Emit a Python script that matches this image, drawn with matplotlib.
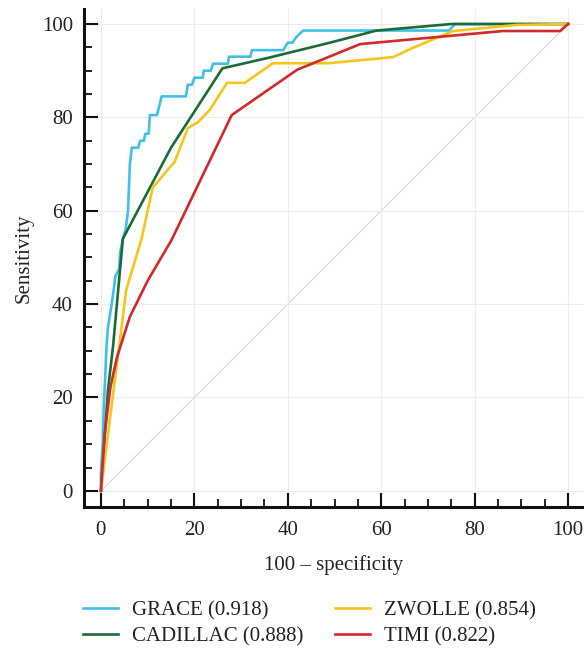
import numpy as np
import matplotlib.pyplot as plt

plt.rcParams['font.family'] = ['Liberation Serif', 'DejaVu Serif']

# ROC curves (100 - specificity, sensitivity)
grace_x = [0, 0, 0.4, 0.6, 0.9, 1.2, 1.5, 1.9, 2.3, 2.6, 3.1, 3.9, 4.1, 4.7, 5.3, 5.8, 6.0, 6.2,
           6.6, 8.0, 8.4, 9.2, 9.5, 10.2, 10.5, 12.0, 13.0, 18.2, 18.6, 19.5, 20.0, 21.8, 22.0,
           23.5, 24.0, 27.2, 27.4, 32.0, 32.3, 39.0, 40.0, 41.0, 41.8, 43.3, 74.5, 75.8, 100]
grace_y = [0, 4, 10, 18, 24, 31, 35, 37.5, 40, 42, 46, 47.5, 51, 54, 56, 60, 65, 70,
           73.5, 73.5, 75, 75, 76.5, 76.5, 80.5, 80.5, 84.5, 84.5, 87, 87, 88.5, 88.5, 90,
           90, 91.5, 91.5, 93, 93, 94.4, 94.4, 96, 96, 97.2, 98.6, 98.6, 100, 100]

cadillac_x = [0, 0.7, 1.5, 2.6, 4.7, 15.0, 26.0, 36.0, 49.0, 59.0, 75.0, 100]
cadillac_y = [0, 10, 21.5, 31, 54, 73.5, 90.5, 92.8, 96.0, 98.6, 100, 100]

zwolle_x = [0, 1.5, 3.6, 5.4, 8.7, 11.1, 15.8, 18.6, 20.8, 23.3, 27.0, 30.8, 36.8, 48.6,
            62.5, 66.8, 75.4, 89.0, 100]
zwolle_y = [0, 12, 28.5, 43, 54, 65, 70.5, 77.7, 79, 81.6, 87.4, 87.4, 91.6, 91.6,
            92.9, 94.9, 98.5, 99.8, 100]

timi_x = [0, 0.8, 2.0, 3.4, 6.2, 10.0, 15.1, 28.0, 42.0, 55.5, 86.0, 98.3, 100]
timi_y = [0, 12, 22, 28.5, 37.3, 45, 53.7, 80.5, 90.2, 95.7, 98.5, 98.5, 100]

labels = ['GRACE (0.918)', 'CADILLAC (0.888)', 'ZWOLLE (0.854)', 'TIMI (0.822)']
colors = ['#41c0e6', '#1b6b36', '#f6c51b', '#d02a2a']

fig = plt.figure(figsize=(5.84, 6.48), dpi=100)
ax = fig.add_axes([0.144, 0.218, 0.856, 0.768])

ax.plot([0, 100], [0, 100], color='#e6cfd3', lw=0.8, zorder=1)
curves = [(grace_x, grace_y), (cadillac_x, cadillac_y), (zwolle_x, zwolle_y), (timi_x, timi_y)]
for (xs, ys), lab, c in zip(curves, labels, colors):
    ax.plot(xs, ys, color=c, lw=1.9, label=lab, zorder=3)

ax.set_xlim(-3.6, 103.4)
ax.set_ylim(-3.4, 103.2)
ax.set_xticks(np.arange(0, 101, 20))
ax.set_yticks(np.arange(0, 101, 20))
ax.set_xticks(np.arange(0, 101, 5), minor=True)
ax.set_yticks(np.arange(0, 101, 5), minor=True)
ax.grid(True, which='major', color='#ececec', lw=0.8, zorder=0)

for s in ['top', 'right']:
    ax.spines[s].set_visible(False)
for s in ['left', 'bottom']:
    ax.spines[s].set_linewidth(2.2)
    ax.spines[s].set_color('#111111')

ax.tick_params(which='major', direction='in', length=10, width=1.5, labelsize=15,
               color='#111111', labelcolor='#222222', pad=8)
ax.tick_params(axis='x', which='major', pad=10)
ax.tick_params(which='minor', direction='in', length=5.5, width=1.3, color='#111111')

ax.set_xlabel('100 \u2013 specificity', fontsize=15, color='#222222', labelpad=11)
ax.set_ylabel('Sensitivity', fontsize=15, color='#222222', labelpad=6)

fig.legend(loc='upper left', bbox_to_anchor=(83 / 584, 1 - 601 / 648), ncol=2, frameon=False,
           fontsize=15, handlelength=1.7, handletextpad=0.65, columnspacing=1.5,
           labelspacing=0.28, borderpad=0, borderaxespad=0, labelcolor='#222222')

plt.savefig('out.png', dpi=100)
